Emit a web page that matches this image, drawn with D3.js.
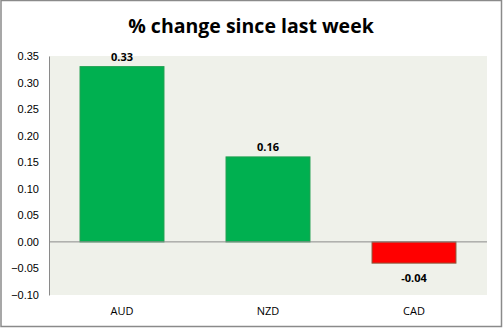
<!DOCTYPE html>
<html>
<head>
<meta charset="utf-8">
<script src="https://cdn.jsdelivr.net/npm/d3@7"></script>
<style>
  html, body { margin: 0; padding: 0; background: #fff; }
  svg { display: block; }
</style>
</head>
<body>
<div id="chart"></div>
<script>
// Weekly currency moves
const categories = ["AUD", "NZD", "CAD"];
const values = [0.33, 0.16, -0.04];
const tickValues = [0.35, 0.30, 0.25, 0.20, 0.15, 0.10, 0.05, 0.00, -0.05, -0.10];
const title = "% change since last week";

const W = 503, H = 329;
const plot = { left: 49, right: 487, top: 56, bottom: 295 };

const svg = d3.select("#chart").append("svg")
  .attr("width", W).attr("height", H);

// outer frame
svg.append("rect")
  .attr("x", 1).attr("y", 0.5).attr("width", W - 2.5).attr("height", H - 3)
  .attr("fill", "#fff").attr("stroke", "#8a8a8a").attr("stroke-width", 1.5);

// title
svg.append("text")
  .attr("x", 251).attr("y", 33)
  .attr("text-anchor", "middle")
  .attr("font-family", "'Open Sans', 'Noto Sans', sans-serif")
  .attr("font-weight", "bold")
  .attr("font-size", 19.5)
  .attr("fill", "#000")
  .text(title);

const x = d3.scaleBand()
  .domain(categories)
  .range([plot.left, plot.right])
  .paddingInner(0.425)
  .paddingOuter(0.2125);

const y = d3.scaleLinear()
  .domain([-0.10, 0.35])
  .range([plot.bottom, plot.top]);

// plot background
svg.append("rect")
  .attr("x", plot.left).attr("y", plot.top)
  .attr("width", plot.right - plot.left).attr("height", plot.bottom - plot.top)
  .attr("fill", "#eff1ea");

// y axis
const yAxis = d3.axisLeft(y)
  .tickValues(tickValues)
  .tickFormat(d3.format(".2f"))
  .tickSize(0)
  .tickPadding(10);

const gy = svg.append("g")
  .attr("transform", `translate(${plot.left},0)`)
  .call(yAxis);
gy.select(".domain").attr("stroke", "#8a8a8a").attr("stroke-width", 1);
gy.selectAll("text")
  .attr("font-family", "'Liberation Sans', Arial, sans-serif")
  .attr("font-size", 11)
  .attr("fill", "#000");

// bars
svg.selectAll("rect.bar")
  .data(categories.map((c, i) => ({ c, v: values[i] })))
  .enter().append("rect")
  .attr("class", "bar")
  .attr("x", d => x(d.c))
  .attr("width", x.bandwidth())
  .attr("y", d => y(Math.max(0, d.v)))
  .attr("height", d => Math.abs(y(d.v) - y(0)))
  .attr("fill", d => d.v >= 0 ? "#00b050" : "#ff0000")
  .attr("stroke", d => d.v >= 0 ? "#1fa050" : "#8b5a3c")
  .attr("stroke-width", 1);

// zero line
svg.append("line")
  .attr("x1", plot.left).attr("x2", plot.right)
  .attr("y1", y(0)).attr("y2", y(0))
  .attr("stroke", "#8a8a8a").attr("stroke-width", 1);

// value labels
svg.selectAll("text.val")
  .data(categories.map((c, i) => ({ c, v: values[i] })))
  .enter().append("text")
  .attr("class", "val")
  .attr("x", d => x(d.c) + x.bandwidth() / 2)
  .attr("y", d => d.v >= 0 ? y(d.v) - 6 : y(d.v) + 19)
  .attr("text-anchor", "middle")
  .attr("font-family", "'Open Sans', 'Noto Sans', sans-serif")
  .attr("font-weight", "bold")
  .attr("font-size", 11)
  .attr("fill", "#000")
  .text(d => d.v.toFixed(2));

// category labels
const xAxis = d3.axisBottom(x).tickSize(0).tickPadding(12);
const gx = svg.append("g")
  .attr("transform", `translate(0,${plot.bottom})`)
  .call(xAxis);
gx.select(".domain").remove();
gx.selectAll("text")
  .attr("font-family", "'Open Sans', 'Noto Sans', sans-serif")
  .attr("font-size", 11)
  .attr("fill", "#000");
</script>
</body>
</html>
